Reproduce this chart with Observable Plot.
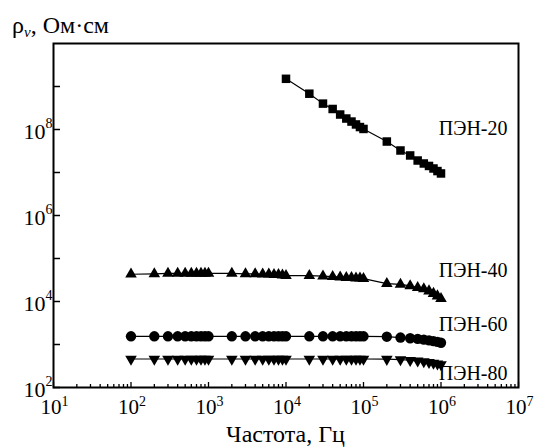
<!DOCTYPE html>
<html><head><meta charset="utf-8">
<script src="https://cdn.jsdelivr.net/npm/d3@7"></script>
<script src="https://cdn.jsdelivr.net/npm/@observablehq/plot@0.6"></script>
<style>
html,body{margin:0;padding:0;background:#fff;}
#chart svg{display:block;}
#chart svg text{font-family:"Liberation Serif","Times New Roman","DejaVu Serif",serif;}
</style></head><body><div id="chart"></div>
<script>
// Frequencies, Hz
const freqAll = [100,200,300,400,500,600,700,800,900,
  1000,2000,3000,4000,5000,6000,7000,8000,9000,
  10000,20000,30000,40000,50000,60000,70000,80000,90000,
  100000,200000,300000,400000,500000,600000,700000,800000,900000,1000000];
const freq20 = [10000,20000,30000,40000,50000,60000,70000,80000,90000,
  100000,200000,300000,400000,500000,600000,700000,800000,900000,1000000];

// Resistivity, Ohm*cm
const rho20 = [1.51e9,6.8e8,4.0e8,3.0e8,2.23e8,1.8e8,1.53e8,1.31e8,1.14e8,
  1.03e8,5.25e7,3.25e7,2.49e7,1.9e7,1.62e7,1.42e7,1.24e7,1.08e7,9.5e6];
const rho40 = [4.3e4,4.4e4,4.5e4,4.5e4,4.5e4,4.5e4,4.5e4,4.5e4,4.5e4,
  4.5e4,4.5e4,4.4e4,4.4e4,4.3e4,4.3e4,4.2e4,4.2e4,4.1e4,
  4.0e4,4.0e4,3.9e4,3.8e4,3.7e4,3.6e4,3.6e4,3.5e4,3.5e4,
  3.4e4,2.6e4,2.5e4,2.3e4,2.1e4,1.95e4,1.75e4,1.53e4,1.34e4,1.17e4];
const rho60 = [1550,1550,1550,1550,1550,1550,1550,1550,1550,
  1550,1550,1550,1550,1550,1550,1550,1550,1550,
  1550,1550,1550,1550,1550,1550,1550,1550,1550,
  1550,1520,1450,1400,1350,1300,1250,1200,1150,1100];
const rho80 = [460,460,460,460,460,460,460,460,460,
  460,460,460,460,460,460,460,460,460,
  460,460,460,460,460,460,460,460,460,
  460,455,445,430,415,400,385,370,355,340];

const seriesNames = ["ПЭН-20","ПЭН-40","ПЭН-60","ПЭН-80"];
const labelRho = [1.05e8, 5.3e4, 2.9e3, 2.1e2];

const xTicks = [1e1,1e2,1e3,1e4,1e5,1e6,1e7];
const yTicksMajor = [1e2,1e4,1e6,1e8];
const yTicksMinor = [1e3,1e5,1e7,1e9];
const xTitle = "Частота, Гц";
const yTitleMain = "ρ", yTitleSub = "v", yTitleRest = ", Ом·см";

// minor x ticks (2..9 within each decade)
const xMinor = [];
for (let k = 1; k < 7; k++) for (let m = 2; m <= 9; m++) xMinor.push(m * Math.pow(10, k));

const W = 535, H = 448, mL = 53, mR = 17, mT = 43, mB = 61;
const frameW = W - mL - mR, frameH = H - mT - mB;

const triangleDown = {
  draw(context, size) {
    const y = -Math.sqrt(size / (Math.sqrt(3) * 3));
    context.moveTo(0, -y * 2);
    context.lineTo(-Math.sqrt(3) * y, y);
    context.lineTo(Math.sqrt(3) * y, y);
    context.closePath();
  }
};

const mk = (fs, vs) => fs.map((f, i) => ({f, rho: vs[i]}));
const s20 = mk(freq20, rho20), s40 = mk(freqAll, rho40), s60 = mk(freqAll, rho60), s80 = mk(freqAll, rho80);
const labels = seriesNames.map((name, i) => ({name, rho: labelRho[i]}));

const font = '"Liberation Serif","Times New Roman","DejaVu Serif",serif';
const lineOpts = {x: "f", y: "rho", stroke: "black", strokeWidth: 1.2};

const svg = Plot.plot({
  width: W, height: H,
  marginLeft: mL, marginRight: mR, marginTop: mT, marginBottom: mB,
  style: {fontFamily: font, background: "white", color: "black"},
  x: {type: "log", domain: [1e1, 1e7], axis: null},
  y: {type: "log", domain: [1e2, 1e10], axis: null},
  marks: [
    Plot.line(s20, lineOpts),
    Plot.line(s40, lineOpts),
    Plot.line(s60, lineOpts),
    Plot.line(s80, lineOpts),
    Plot.dot(s20, {x: "f", y: "rho", symbol: "square", r: 4.8, fill: "black"}),
    Plot.dot(s40, {x: "f", y: "rho", symbol: "triangle", r: 4.3, fill: "black"}),
    Plot.dot(s60, {x: "f", y: "rho", symbol: "circle", r: 5.2, fill: "black"}),
    Plot.dot(s80, {x: "f", y: "rho", symbol: triangleDown, r: 4.3, fill: "black"}),
    Plot.text(labels, {y: "rho", text: "name", frameAnchor: "right", textAnchor: "end", dx: -11, fontSize: 20, fill: "black"}),
    Plot.tickX(xMinor, {x: d => d, stroke: "black", strokeWidth: 1.3, insetTop: frameH - 3}),
    Plot.tickX(xTicks, {x: d => d, stroke: "black", strokeWidth: 1.3, insetTop: frameH - 5}),
    Plot.tickY(yTicksMajor.concat(yTicksMinor), {y: d => d, stroke: "black", strokeWidth: 1.5, insetRight: frameW - 7}),
    Plot.axisX({ticks: xTicks, tickSize: 0, tickPadding: 12, fontSize: 21, label: null, dx: 1,
      tickFormat: d => "10^" + Math.round(Math.log10(d))}),
    Plot.axisY({ticks: yTicksMajor, tickSize: 0, tickPadding: 1, fontSize: 22, label: null, dy: 2,
      tickFormat: d => "10^" + Math.round(Math.log10(d))}),
    Plot.frame({stroke: "black", strokeWidth: 2})
  ]
});

const s = d3.select(svg);
function supify(sel, shift) {
  sel.each(function() {
    const t = this.textContent;
    const parts = t.split("^");
    if (parts.length !== 2) return;
    const el = d3.select(this);
    el.text(null);
    el.append("tspan").text(parts[0]);
    el.append("tspan").attr("dy", shift).attr("font-size", 14).text(parts[1]);
  });
}
supify(s.selectAll('g[aria-label="x-axis tick label"] text'), -8);
supify(s.selectAll('g[aria-label="y-axis tick label"] text'), -11);

const yt = s.append("text").attr("x", 12).attr("y", 33).attr("text-anchor", "start")
  .attr("font-family", font).attr("font-size", 24).attr("fill", "black");
yt.append("tspan").text(yTitleMain);
yt.append("tspan").attr("font-size", 15).attr("font-style", "italic").attr("dy", 4).text(yTitleSub);
yt.append("tspan").attr("dy", -4).text(yTitleRest);

s.append("text").attr("x", mL + frameW / 2).attr("y", 442).attr("text-anchor", "middle")
  .attr("font-family", font).attr("font-size", 24).attr("fill", "black").text(xTitle);

document.getElementById("chart").appendChild(svg);
</script>
</body></html>
